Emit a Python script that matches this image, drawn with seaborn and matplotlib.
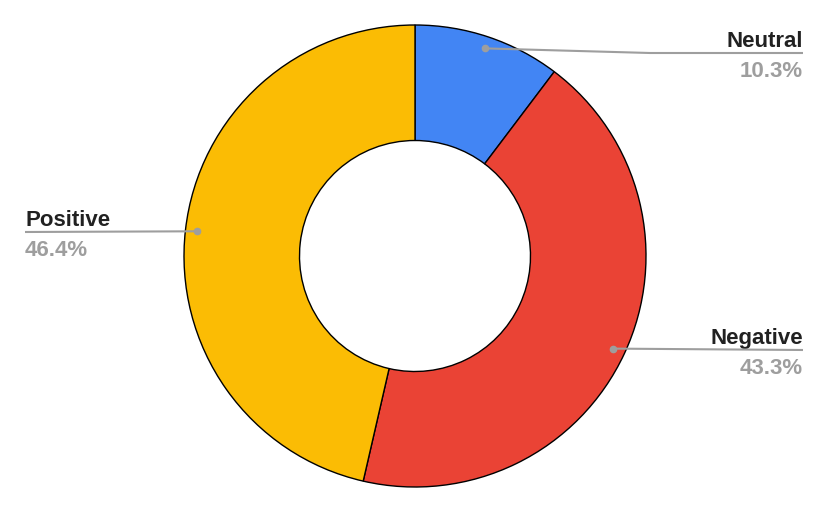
import numpy as np
import seaborn as sns
import matplotlib.pyplot as plt

# slice data, clockwise from 12 o'clock
labels = ['Neutral', 'Negative', 'Positive']
shares = [10.3, 43.3, 46.4]
colours = ['#4285F4', '#EA4335', '#FBBC04']

sns.set_theme(style='white')
plt.rcParams['font.family'] = ['Liberation Sans', 'DejaVu Sans']

W, H = 830, 514
fig = plt.figure(figsize=(W / 100, H / 100), dpi=100)
ax = fig.add_axes([0, 0, 1, 1])

# work in pixel coordinates (y flipped so that it counts up)
cx, cy, R = 415, H - 256, 231
ax.pie(shares, colors=colours, startangle=90, counterclock=False,
       center=(cx, cy), radius=R,
       wedgeprops=dict(width=R * 0.5, edgecolor='black', linewidth=1.0))
ax.set_xlim(0, W)
ax.set_ylim(0, H)
ax.set_aspect('equal')
ax.axis('off')

# leader dots at the mid angle of each slice
fracs = np.array(shares) / sum(shares)
starts = 90 - 360 * np.concatenate([[0], np.cumsum(fracs)[:-1]])
mids = np.radians(starts - 180 * fracs)
r_dot = 0.948 * R

# label anchors (pixel, top-down y): line end x, line y, alignment
layout = {
    'Neutral': dict(x=803, y=53, ha='right', bend=650),
    'Negative': dict(x=803, y=350, ha='right', bend=None),
    'Positive': dict(x=25, y=232, ha='left', bend=None),
}
grey = '#9E9E9E'
for lab, val, a in zip(labels, shares, mids):
    dx, dy = cx + r_dot * np.cos(a), cy + r_dot * np.sin(a)
    L = layout[lab]
    ly = H - L['y']
    if L['bend'] is not None:
        xs, ys = [dx, L['bend'], L['x']], [dy, ly, ly]
    else:
        xs, ys = [dx, L['x']], [dy, ly]
    ax.plot(xs, ys, color=grey, lw=1.5, solid_capstyle='butt', zorder=5)
    ax.plot(dx, dy, 'o', color=grey, ms=4.5, zorder=6)
    ax.text(L['x'], ly + 6, lab, ha=L['ha'], va='baseline', fontsize=16,
            fontweight='bold', color='#212121')
    ax.text(L['x'], ly - 24, f'{val:.1f}%', ha=L['ha'], va='baseline', fontsize=16,
            fontweight='bold', color=grey)

fig.savefig('out.png', dpi=100)
